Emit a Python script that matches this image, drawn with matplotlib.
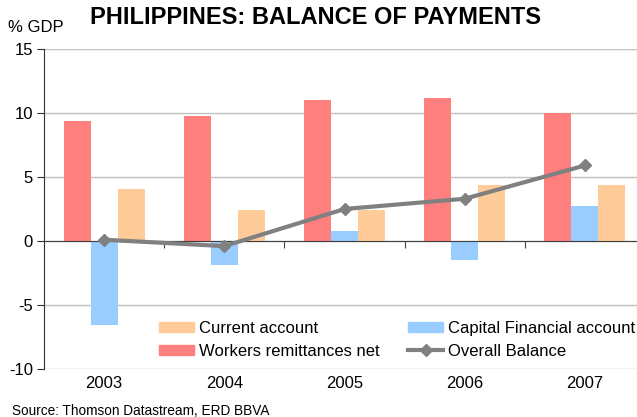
import numpy as np
import matplotlib
matplotlib.use("Agg")
import matplotlib.pyplot as plt
from matplotlib.lines import Line2D
from matplotlib.patches import Patch

# ===== data (% of GDP) =====
years = ["2003", "2004", "2005", "2006", "2007"]
workers_remittances = [9.4, 9.8, 11.0, 11.2, 10.0]
capital_financial = [-6.6, -1.9, 0.8, -1.5, 2.7]
current_account = [4.1, 2.4, 2.4, 4.4, 4.4]
overall_balance = [0.1, -0.4, 2.5, 3.3, 5.9]

c_wr = "#FF7F7F"
c_cf = "#99CCFF"
c_ca = "#FFCC99"
c_ob = "#808080"

plt.rcParams["font.family"] = ["Liberation Sans", "DejaVu Sans"]
plt.rcParams["axes.unicode_minus"] = False

fig = plt.figure(figsize=(6.37, 4.17), dpi=100)
ax = fig.add_axes([44 / 637, 48 / 417, 601 / 637, 320 / 417])

x = np.arange(len(years))
w = 0.225
ax.bar(x - w, workers_remittances, w, color=c_wr, zorder=2)
ax.bar(x, capital_financial, w, color=c_cf, zorder=2)
ax.bar(x + w, current_account, w, color=c_ca, zorder=2)
ax.plot(x, overall_balance, color=c_ob, lw=3, marker="D", ms=6, zorder=4)

ax.set_xlim(-0.5, len(years) - 0.5)
ax.set_ylim(-10, 15)
ax.set_yticks(np.arange(-10, 16, 5))
ax.yaxis.grid(True, color="#C0C0C0", lw=1)
ax.set_axisbelow(True)

for s in ["top", "right"]:
    ax.spines[s].set_visible(False)
ax.spines["left"].set_color("#303030")
ax.spines["bottom"].set_position(("data", 0))
ax.spines["bottom"].set_color("#404040")
ax.spines["bottom"].set_zorder(3)
ax.set_xticks(x[:-1] + 0.5)
ax.set_xticklabels([])
ax.tick_params(axis="x", length=5, color="#404040", direction="out")
ax.tick_params(axis="y", length=5, color="#303030", labelsize=12, pad=3)

for i, yr in enumerate(years):
    ax.text(i, -0.022, yr, transform=ax.get_xaxis_transform(),
            ha="center", va="top", fontsize=12)

# legend is filled column by column
handles = [Patch(color=c_ca), Patch(color=c_wr), Patch(color=c_cf),
           Line2D([], [], color=c_ob, lw=3, marker="D", ms=6)]
labels = ["Current account", "Workers remittances net",
          "Capital Financial account", "Overall Balance"]
ax.legend(handles, labels, ncol=2, frameon=False, fontsize=12,
          loc="lower left", bbox_to_anchor=(0.175, 0.0),
          handlelength=2.1, handleheight=0.6, handletextpad=0.3,
          columnspacing=1.7, labelspacing=0.5, borderaxespad=0.2)

fig.text(316 / 637, 1 - 17 / 417, "PHILIPPINES: BALANCE OF PAYMENTS",
         ha="center", va="center", fontsize=17, fontweight="bold")
fig.text(8 / 637, 1 - 27 / 417, "% GDP", ha="left", va="center", fontsize=12)
fig.text(12 / 637, 1 - 411 / 417, "Source: Thomson Datastream, ERD BBVA",
         ha="left", va="center", fontsize=9.8)

fig.savefig("out.png", dpi=100)
